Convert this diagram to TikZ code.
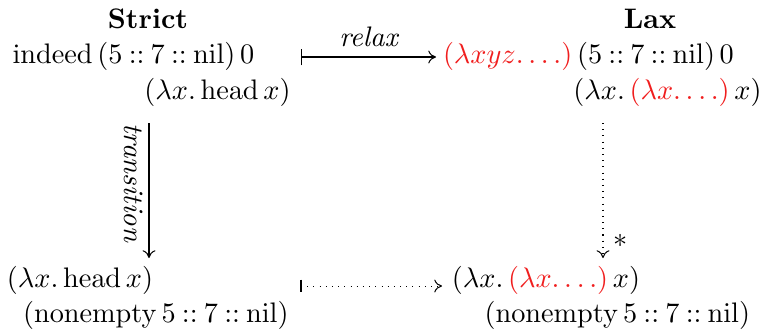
\documentclass[tikz,border=0pt]{standalone}
\usetikzlibrary{arrows.meta}
\begin{document}
\begin{tikzpicture}[x=0.3876pt,y=-0.3876pt,
  font=\fontsize{10.95}{13}\selectfont,
  lbl/.style={inner sep=0pt,anchor=base},
  hd/.style={inner sep=0pt,anchor=base,font=\fontsize{10.95}{13}\selectfont\bfseries},
  solidarr/.style={-{To[length=3pt,width=5pt]},line width=0.4pt},
  dotarr/.style={-{To[length=3pt,width=5pt]},dotted,line width=0.4pt},
  mapsarr/.style={{Bar[width=6.5pt]}-{To[length=3pt,width=5pt]},line width=0.4pt}]
\definecolor{lred}{RGB}{240,30,30}
\useasboundingbox (0,0) rectangle (764,334);
\node[hd] (strict) at (148,28) {Strict};
\node[hd] (lax) at (650,28) {Lax};
\node[lbl] (s1) at (133.5,63) {indeed\,$(5 \mathbin{::} 7 \mathbin{::} \mathrm{nil})\,0$};
\node[lbl] (s2) at (217.5,99) {$(\lambda x.\,\mathrm{head}\,x)$};
\node[lbl] (l1) at (588.5,63) {$\color{lred}(\lambda xyz.\ldots)\,$$(5 \mathbin{::} 7 \mathbin{::} \mathrm{nil})\,0$};
\node[lbl] (l2) at (667.5,99) {$(\lambda x.\,{\color{lred}(\lambda x.\ldots)}\,x)$};
\node[lbl] (b1) at (80,287) {$(\lambda x.\,\mathrm{head}\,x)$};
\node[lbl] (b2) at (156,322) {$(\mathrm{nonempty}\,5 \mathbin{::} 7 \mathbin{::} \mathrm{nil})$};
\node[lbl] (c1) at (546,287) {$(\lambda x.\,{\color{lred}(\lambda x.\ldots)}\,x)$};
\node[lbl] (c2) at (617.5,322) {$(\mathrm{nonempty}\,5 \mathbin{::} 7 \mathbin{::} \mathrm{nil})$};
\coordinate (r0) at (301,57);
\coordinate (r1) at (436,57);
\draw[mapsarr] (r0) -- node[above=0.5pt,font=\fontsize{10.95}{13}\selectfont\itshape] (rl) {relax} (r1);
\coordinate (t0) at (149,123);
\coordinate (t1) at (149,258);
\draw[solidarr] (t0) -- node[rotate=-90,anchor=north,xshift=-3pt,inner sep=2pt,font=\fontsize{10.95}{13}\selectfont\itshape] (tl) {transition} (t1);
\coordinate (d0) at (603,123);
\coordinate (d1) at (603,258);
\draw[dotarr] (d0) -- (d1);
\node (st) at (621,241) {$*$};
\coordinate (e0) at (301,286);
\coordinate (e1) at (442,286);
\draw[line width=0.4pt] ([yshift=2.5pt]e0) -- ([yshift=-2.5pt]e0);
\draw[dotarr] (e0) -- (e1);
\end{tikzpicture}
\end{document}
